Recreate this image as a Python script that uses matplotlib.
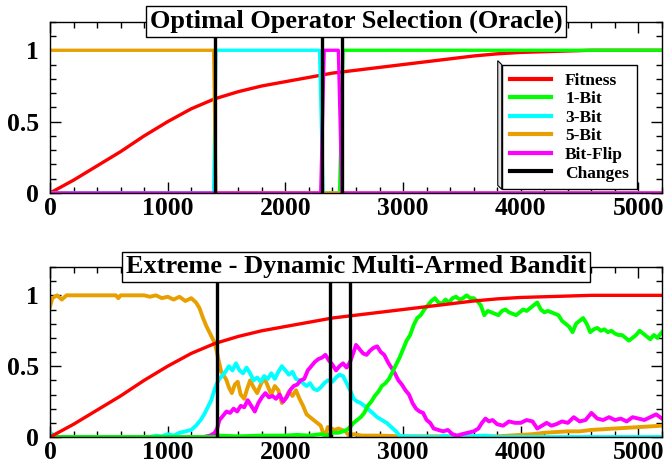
import matplotlib
matplotlib.use("Agg")
import matplotlib.pyplot as plt
from matplotlib.lines import Line2D
from matplotlib.patches import Polygon
from matplotlib.ticker import MultipleLocator

plt.rcParams["font.family"] = ["Liberation Serif", "DejaVu Serif"]
plt.rcParams["font.weight"] = "bold"

# ---- data -------------------------------------------------------------
fit_x = [0, 200, 400, 600, 800, 1000, 1200, 1400, 1600, 1800, 2000, 2200, 2400,
         2600, 2800, 3000, 3200, 3400, 3600, 3800, 4000, 4200, 4400, 4600, 5200]
fit_y = [0.0, 0.09, 0.19, 0.29, 0.40, 0.50, 0.59, 0.66, 0.71, 0.75, 0.78, 0.81, 0.84,
         0.86, 0.88, 0.90, 0.92, 0.94, 0.96, 0.975, 0.985, 0.99, 0.995, 1.0, 1.0]

# oracle (top panel)
top_1bit_x = [0, 2460, 2490, 5200]
top_1bit_y = [0, 0, 1, 1]
top_3bit_x = [0, 1390, 1410, 2290, 2320, 5200]
top_3bit_y = [0, 0, 1, 1, 0, 0]
top_5bit_x = [0, 1390, 1410, 5200]
top_5bit_y = [1, 1, 0, 0]
top_flip_x = [0, 2300, 2330, 2450, 2480, 5200]
top_flip_y = [0, 0, 1, 1, 0, 0]
top_changes = [1400, 2310, 2480]

# extreme dynamic MAB (bottom panel)
bot_5bit_x = [0, 20, 60, 100, 140, 300, 560, 580, 600, 800, 850, 900, 950, 1000, 1050,
              1100, 1150, 1200, 1240, 1270, 1300, 1330, 1360, 1390, 1410, 1430, 1455,
              1480, 1500, 1520, 1545, 1570, 1595, 1620, 1650, 1675, 1700, 1730, 1760,
              1790, 1820, 1850, 1880, 1910, 1940, 1970, 2000, 2030, 2060, 2090, 2120,
              2150, 2180, 2210, 2240, 2270, 2300, 2320, 2340, 2360, 2390, 2420, 2450,
              2480, 2510, 2540, 2580, 2650, 2800, 3000, 3500, 3800, 4000, 4100, 4200,
              4300, 4400, 4500, 4600, 4700, 4800, 4900, 5000, 5100, 5200]
bot_5bit_y = [0.92, 0.98, 1.0, 0.97, 1.0, 1.0, 1.0, 0.98, 1.0, 1.0, 0.99, 1.0, 0.98, 0.99,
              0.97, 0.99, 0.96, 0.98, 0.95, 0.91, 0.84, 0.78, 0.73, 0.68, 0.63, 0.55,
              0.46, 0.43, 0.40, 0.35, 0.31, 0.37, 0.39, 0.30, 0.27, 0.34, 0.40, 0.35,
              0.31, 0.37, 0.42, 0.36, 0.30, 0.36, 0.33, 0.24, 0.27, 0.32, 0.29, 0.33,
              0.27, 0.22, 0.16, 0.14, 0.12, 0.10, 0.08, 0.03, 0.01, 0.07, 0.06, 0.05,
              0.06, 0.05, 0.04, 0.01, 0.02, 0.01, 0.01, 0.005, 0.005, 0.005, 0.015,
              0.02, 0.03, 0.035, 0.04, 0.04, 0.05, 0.055, 0.06, 0.065, 0.07, 0.075, 0.08]

bot_3bit_x = [0, 40, 80, 850, 900, 950, 1000, 1050, 1100, 1150, 1200, 1240, 1280, 1310,
              1340, 1370, 1400, 1430, 1460, 1490, 1520, 1550, 1580, 1610, 1640, 1670,
              1700, 1730, 1760, 1790, 1820, 1850, 1880, 1910, 1940, 1970, 2000, 2030,
              2060, 2090, 2120, 2150, 2180, 2210, 2240, 2270, 2300, 2330, 2360, 2400,
              2430, 2460, 2490, 2520, 2550, 2580, 2610, 2640, 2670, 2700, 2740, 2780,
              2820, 2860, 2900, 2940, 2970, 3000, 3300, 3350, 3400, 3700, 3800, 5200]
bot_3bit_y = [0.03, 0.01, 0.0, 0.0, 0.01, 0.005, 0.02, 0.01, 0.03, 0.04, 0.05, 0.08, 0.12,
              0.16, 0.21, 0.26, 0.34, 0.40, 0.43, 0.46, 0.50, 0.47, 0.52, 0.47, 0.45,
              0.49, 0.45, 0.40, 0.42, 0.39, 0.43, 0.41, 0.45, 0.41, 0.46, 0.50, 0.47,
              0.44, 0.46, 0.41, 0.40, 0.38, 0.36, 0.38, 0.34, 0.33, 0.35, 0.38, 0.40,
              0.39, 0.42, 0.44, 0.43, 0.38, 0.33, 0.27, 0.25, 0.24, 0.22, 0.20, 0.17,
              0.14, 0.12, 0.10, 0.07, 0.04, 0.01, 0.005, 0.0, 0.01, 0.0, 0.01, 0.0, 0.0]

bot_flip_x = [0, 1300, 1360, 1400, 1420, 1440, 1470, 1500, 1530, 1560, 1590, 1620, 1650,
              1680, 1710, 1740, 1770, 1800, 1830, 1860, 1890, 1920, 1950, 1980, 2010,
              2040, 2070, 2100, 2130, 2160, 2190, 2220, 2250, 2280, 2310, 2340, 2370,
              2400, 2430, 2460, 2490, 2520, 2550, 2580, 2600, 2630, 2660, 2690, 2720,
              2750, 2780, 2810, 2840, 2870, 2900, 2930, 2960, 2990, 3020, 3050, 3080,
              3110, 3140, 3170, 3200, 3230, 3260, 3300, 3340, 3380, 3420, 3460, 3500,
              3550, 3600, 3640, 3670, 3700, 3730, 3760, 3800, 3850, 3900, 3950, 4000,
              4050, 4100, 4140, 4180, 4220, 4260, 4300, 4350, 4400, 4450, 4500, 4550,
              4600, 4650, 4700, 4750, 4800, 4850, 4900, 4950, 5000, 5050, 5100, 5150, 5200]
bot_flip_y = [0.0, 0.0, 0.01, 0.03, 0.06, 0.12, 0.15, 0.18, 0.17, 0.20, 0.18, 0.22, 0.21,
              0.26, 0.22, 0.18, 0.24, 0.28, 0.31, 0.28, 0.29, 0.27, 0.30, 0.25, 0.28,
              0.33, 0.36, 0.37, 0.40, 0.41, 0.47, 0.50, 0.53, 0.55, 0.56, 0.58, 0.54,
              0.51, 0.47, 0.50, 0.52, 0.49, 0.53, 0.60, 0.65, 0.62, 0.59, 0.58, 0.61,
              0.63, 0.64, 0.60, 0.58, 0.53, 0.49, 0.45, 0.40, 0.37, 0.33, 0.30, 0.24,
              0.20, 0.18, 0.17, 0.12, 0.10, 0.06, 0.05, 0.04, 0.05, 0.02, 0.01, 0.02,
              0.03, 0.04, 0.06, 0.10, 0.13, 0.11, 0.12, 0.09, 0.08, 0.11, 0.10, 0.10,
              0.12, 0.11, 0.06, 0.08, 0.10, 0.08, 0.09, 0.11, 0.10, 0.14, 0.11, 0.12,
              0.17, 0.13, 0.12, 0.14, 0.12, 0.13, 0.11, 0.14, 0.13, 0.12, 0.14, 0.16, 0.13]

bot_1bit_x = [0, 1400, 1430, 1600, 1800, 2000, 2100, 2200, 2300, 2350, 2400, 2450, 2490,
              2520, 2550, 2580, 2610, 2640, 2670, 2700, 2730, 2760, 2790, 2820, 2850,
              2880, 2910, 2940, 2970, 3000, 3030, 3060, 3090, 3120, 3150, 3180, 3210,
              3240, 3270, 3300, 3330, 3360, 3390, 3420, 3450, 3480, 3510, 3540, 3570,
              3600, 3630, 3660, 3690, 3720, 3750, 3780, 3810, 3840, 3870, 3900, 3930,
              3960, 3990, 4020, 4050, 4080, 4110, 4140, 4170, 4200, 4230, 4260, 4290,
              4320, 4350, 4380, 4410, 4440, 4470, 4500, 4530, 4560, 4590, 4620, 4650,
              4680, 4710, 4740, 4770, 4800, 4830, 4860, 4890, 4920, 4950, 4980, 5010,
              5040, 5070, 5100, 5130, 5160, 5200]
bot_1bit_y = [0.0, 0.0, 0.01, 0.005, 0.01, 0.01, 0.015, 0.01, 0.02, 0.01, 0.03, 0.03, 0.04,
              0.05, 0.07, 0.10, 0.12, 0.14, 0.17, 0.22, 0.25, 0.29, 0.32, 0.36, 0.38,
              0.41, 0.46, 0.51, 0.56, 0.62, 0.68, 0.72, 0.79, 0.84, 0.86, 0.90, 0.93,
              0.96, 0.98, 0.95, 0.94, 0.97, 0.95, 0.98, 0.99, 0.97, 0.98, 1.0, 0.98,
              0.98, 0.96, 0.93, 0.86, 0.89, 0.88, 0.87, 0.86, 0.89, 0.90, 0.88, 0.87,
              0.86, 0.88, 0.90, 0.89, 0.91, 0.93, 0.95, 0.90, 0.88, 0.89, 0.88, 0.87,
              0.86, 0.82, 0.80, 0.78, 0.74, 0.80, 0.82, 0.84, 0.80, 0.74, 0.76, 0.77,
              0.75, 0.76, 0.74, 0.75, 0.73, 0.72, 0.72, 0.70, 0.68, 0.70, 0.72, 0.75,
              0.73, 0.71, 0.69, 0.72, 0.70, 0.74]
bot_changes = [1415, 2380, 2548]

labels = ["Fitness", "1-Bit", "3-Bit", "5-Bit", "Bit-Flip", "Changes"]
colors = ["#ff0000", "#00ff00", "#00ffff", "#e8a000", "#ff00ff", "#000000"]


def _style(ax, title):
    ax.set_xlim(0, 5200)
    ax.set_ylim(0, 1.2)
    ax.xaxis.set_major_locator(MultipleLocator(1000))
    ax.xaxis.set_minor_locator(MultipleLocator(200))
    ax.yaxis.set_minor_locator(MultipleLocator(0.1))
    ax.set_yticks([0, 0.5, 1])
    ax.set_yticklabels(["0", "0.5", "1"])
    ax.tick_params(which="both", direction="in", top=True, right=True, width=1.0,
                   labelsize=18.5)
    ax.tick_params(which="major", length=8)
    ax.tick_params(which="minor", length=4)
    ax.tick_params(axis="x", which="major", pad=3)
    ax.tick_params(axis="y", which="major", pad=8)
    for s in ax.spines.values():
        s.set_linewidth(1.0)
    ax.text(0.5, 1.0, title, transform=ax.transAxes, ha="center", va="center",
            fontsize=19, fontweight="bold", zorder=10,
            bbox=dict(boxstyle="square,pad=0.15", fc="white", ec="black", lw=1.0))


fig = plt.figure(figsize=(6.65, 4.68), dpi=100)
ax1 = fig.add_axes([0.0752, 0.5876, 0.9203, 0.366])
ax2 = fig.add_axes([0.0752, 0.0662, 0.9203, 0.3633])

lw = 2.4
ax1.plot(fit_x, fit_y, color=colors[0], lw=lw)
ax1.plot(top_1bit_x, top_1bit_y, color=colors[1], lw=lw)
ax1.plot(top_3bit_x, top_3bit_y, color=colors[2], lw=lw)
ax1.plot(top_5bit_x, top_5bit_y, color=colors[3], lw=lw)
ax1.plot(top_flip_x, top_flip_y, color=colors[4], lw=lw)
for c in top_changes:
    ax1.axvline(c, color="black", lw=2.4)
_style(ax1, "Optimal Operator Selection (Oracle)")

lw2 = 2.8
ax2.plot(bot_5bit_x, bot_5bit_y, color=colors[3], lw=lw2)
ax2.plot(bot_3bit_x, bot_3bit_y, color=colors[2], lw=lw2)
ax2.plot(bot_flip_x, bot_flip_y, color=colors[4], lw=lw2)
ax2.plot(bot_1bit_x, bot_1bit_y, color=colors[1], lw=lw2)
ax2.plot(fit_x, fit_y, color=colors[0], lw=lw)
for c in bot_changes:
    ax2.axvline(c, color="black", lw=2.4)
_style(ax2, "Extreme - Dynamic Multi-Armed Bandit")

handles = [Line2D([], [], color=c, lw=3) for c in colors]
leg = ax1.legend(handles, labels, loc="upper right", bbox_to_anchor=(0.973, 0.80),
                 handlelength=2.4, labelspacing=0.14, borderpad=0.45,
                 handletextpad=0.8, fancybox=False, framealpha=1.0,
                 prop=dict(family="Liberation Serif", weight="bold", size=12.5))
leg.get_frame().set_edgecolor("black")
leg.get_frame().set_linewidth(1.0)

# 3d-ish side strip of the legend box (left and bottom)
fig.canvas.draw()
bb = leg.get_window_extent()
d = 4
strip = Polygon([(bb.x0, bb.y1), (bb.x0 - d, bb.y1 + d), (bb.x0 - d, bb.y0 + d),
                 (bb.x0, bb.y0)], closed=True, transform=None, fc="#e0e0e0",
                ec="black", lw=0.8, zorder=9)
fig.add_artist(strip)

fig.savefig("out.png", dpi=100)
